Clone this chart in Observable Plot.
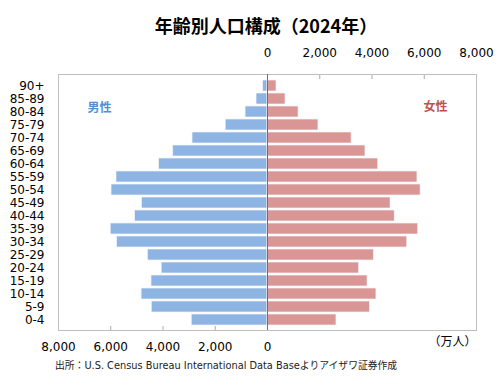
<!DOCTYPE html>
<html><head><meta charset="utf-8">
<script src="https://cdn.jsdelivr.net/npm/d3@7"></script>
<script src="https://cdn.jsdelivr.net/npm/@observablehq/plot@0.6"></script>
<style>
html,body{margin:0;padding:0;background:#fff;width:500px;height:386px;overflow:hidden;}
#title{height:40px;box-sizing:border-box;padding-top:13px;padding-left:32px;text-align:center;font:bold 18px "Noto Sans CJK JP",sans-serif;line-height:24px;color:#000;}
#chart svg{display:block;}
#caption{height:26px;line-height:26px;padding-left:55px;font:9.8px "DejaVu Sans","Noto Sans CJK JP",sans-serif;color:#222;}
</style></head>
<body>
<div id="title">年齢別人口構成（2024年）</div>
<div id="chart"></div>
<div id="caption">出所：U.S. Census Bureau International Data Baseよりアイザワ証券作成</div>
<script>
const ages = ["90+","85-89","80-84","75-79","70-74","65-69","60-64","55-59","50-54","45-49","40-44","35-39","30-34","25-29","20-24","15-19","10-14","5-9","0-4"];
const male =   [170, 420, 840, 1600, 2870, 3610, 4150, 5780, 5970, 4810, 5070, 6000, 5760, 4580, 4050, 4440, 4820, 4430, 2900];
const female = [345, 690, 1190, 1950, 3220, 3750, 4240, 5740, 5860, 4710, 4870, 5770, 5350, 4070, 3510, 3830, 4170, 3920, 2640];
const topTicks = [0, 2000, 4000, 6000, 8000];
const bottomTicks = [-8000, -6000, -4000, -2000, 0];

const rows = ages.flatMap((a, i) => [
  {age: a, sex: "男性", v: -male[i]},
  {age: a, sex: "女性", v: female[i]}
]);
const fmt = d3.format(",");
const font = "DejaVu Sans";

const plot = Plot.plot({
  width: 500,
  height: 318,
  marginTop: 34,
  marginBottom: 28,
  marginLeft: 58,
  marginRight: 24,
  style: {fontFamily: font, fontSize: "12px", color: "#000"},
  x: {domain: [-8000, 8000], label: null},
  y: {domain: ages, padding: 0.18, label: null},
  marks: [
    Plot.barX(rows, {
      y: "age", x1: 0, x2: "v",
      fill: d => d.sex === "男性" ? "#8DB4E2" : "#DA9694",
      stroke: "#f4f4f8", strokeWidth: 0.7
    }),
    Plot.frame({stroke: "#bfbfbf"}),
    Plot.ruleX([0], {stroke: "#a85858", strokeWidth: 1}),
    Plot.axisX({anchor: "top", ticks: topTicks, tickFormat: fmt, tickSize: 0, tickPadding: 18, fontSize: 12, label: null}),
    Plot.axisX({anchor: "bottom", ticks: bottomTicks, tickFormat: d => fmt(Math.abs(d)), tickSize: 0, tickPadding: 12, fontSize: 12, label: null}),
    Plot.axisX({anchor: "top", ticks: topTicks.slice(1, 4), tickFormat: () => "", tickSize: -4, stroke: "#aaa", label: null}),
    Plot.axisX({anchor: "bottom", ticks: bottomTicks.slice(1, 4), tickFormat: () => "", tickSize: -4, stroke: "#aaa", label: null}),
    Plot.axisY({anchor: "left", tickSize: 0, tickPadding: 14, fontSize: 12, label: null}),
    Plot.text(["男性"], {frameAnchor: "top-left", dx: 29, dy: 29, fill: "#558ED5", fontWeight: "bold", fontSize: 12, fontFamily: "Noto Sans CJK JP"}),
    Plot.text(["女性"], {frameAnchor: "top-right", dx: -29, dy: 28, fill: "#C0504D", fontWeight: "bold", fontSize: 12, fontFamily: "Noto Sans CJK JP"}),
    Plot.text(["（万人）"], {frameAnchor: "bottom-right", dy: 15, textAnchor: "end", fill: "#000", fontSize: 12, fontFamily: "Noto Sans CJK JP"})
  ]
});
document.getElementById("chart").appendChild(plot);
</script>
</body></html>
